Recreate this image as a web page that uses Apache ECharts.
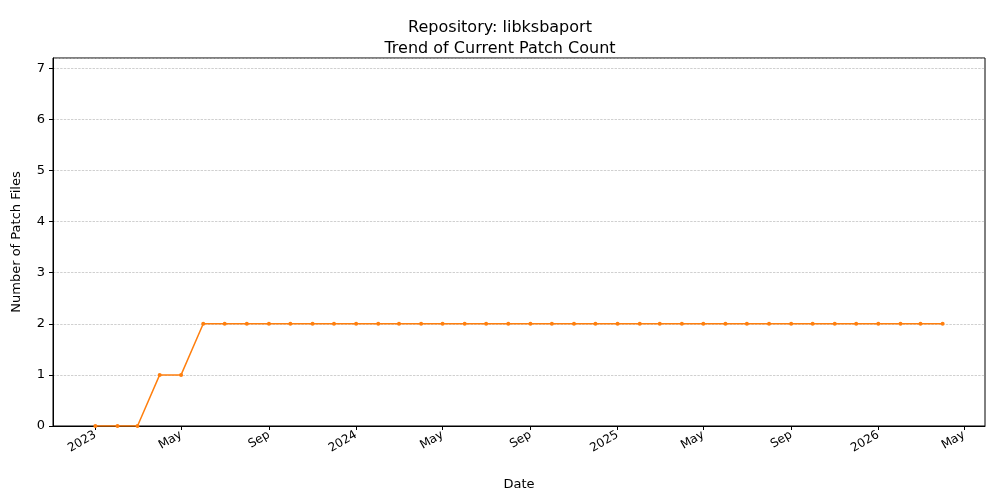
<!DOCTYPE html>
<html>
<head>
<meta charset="utf-8">
<script src="https://cdn.jsdelivr.net/npm/echarts@6/dist/echarts.min.js"></script>
<style>html,body{margin:0;padding:0;background:#fff}</style>
</head>
<body>
<div id="chart" style="width:1000px;height:500px"></div>
<script>
// monthly snapshots, Jan 2023 .. Apr 2026
const startYear = 2023;
const patchCounts = [0, 0, 0, 1, 1, 2, 2, 2, 2, 2, 2, 2,
  2, 2, 2, 2, 2, 2, 2, 2, 2, 2, 2, 2,
  2, 2, 2, 2, 2, 2, 2, 2, 2, 2, 2, 2,
  2, 2, 2, 2];
const tickMonths = [[2023, 0], [2023, 4], [2023, 8], [2024, 0], [2024, 4], [2024, 8],
  [2025, 0], [2025, 4], [2025, 8], [2026, 0], [2026, 4]];
const tickLabels = ['2023', 'May', 'Sep', '2024', 'May', 'Sep', '2025', 'May', 'Sep', '2026', 'May'];

const dates = patchCounts.map((_, i) => Date.UTC(startYear, i, 1));
const seriesData = patchCounts.map((v, i) => [dates[i], v]);
const span = dates[dates.length - 1] - dates[0];
const tickValues = tickMonths.map(([y, m]) => Date.UTC(y, m, 1));
const labelMap = {};
tickValues.forEach((t, i) => { labelMap[t] = tickLabels[i]; });

const chart = echarts.init(document.getElementById('chart'));
chart.setOption({
  animation: false,
  title: {
    text: 'Repository: libksbaport\nTrend of Current Patch Count',
    left: 'center', top: 12,
    textStyle: { fontFamily: 'DejaVu Sans', fontSize: 16, fontWeight: 'normal', color: '#000', lineHeight: 21 }
  },
  grid: { left: 53, right: 15, top: 58, bottom: 74, show: true, borderColor: '#000', borderWidth: 1 },
  xAxis: {
    type: 'value',
    min: dates[0] - span * 0.05,
    max: dates[dates.length - 1] + span * 0.05,
    name: 'Date', nameLocation: 'middle', nameGap: 52,
    nameTextStyle: { fontFamily: 'DejaVu Sans', fontSize: 13, color: '#000' },
    axisLine: { lineStyle: { color: '#000' } },
    axisTick: { customValues: tickValues, length: 4, lineStyle: { color: '#000' } },
    axisLabel: {
      customValues: tickValues, rotate: 30, color: '#000',
      fontFamily: 'DejaVu Sans', fontSize: 12,
      formatter: v => labelMap[v] || ''
    },
    splitLine: { show: false }
  },
  yAxis: {
    type: 'value', min: 0, max: 7.2, interval: 1,
    name: 'Number of Patch Files', nameLocation: 'middle', nameGap: 30,
    nameTextStyle: { fontFamily: 'DejaVu Sans', fontSize: 13, color: '#000' },
    axisLine: { show: true, lineStyle: { color: '#000' } },
    axisTick: { show: true, length: 4, lineStyle: { color: '#000' } },
    axisLabel: { color: '#000', fontFamily: 'DejaVu Sans', fontSize: 13, showMaxLabel: false,
      formatter: v => Number.isInteger(v) ? String(v) : '' },
    splitLine: { lineStyle: { color: '#b0b0b0', type: 'dashed', width: 0.6 } }
  },
  series: [{
    type: 'line', data: seriesData,
    lineStyle: { color: '#ff7f0e', width: 1.5 },
    itemStyle: { color: '#ff7f0e' },
    symbol: 'circle', symbolSize: 4, showAllSymbol: true
  }]
});
</script>
</body>
</html>
